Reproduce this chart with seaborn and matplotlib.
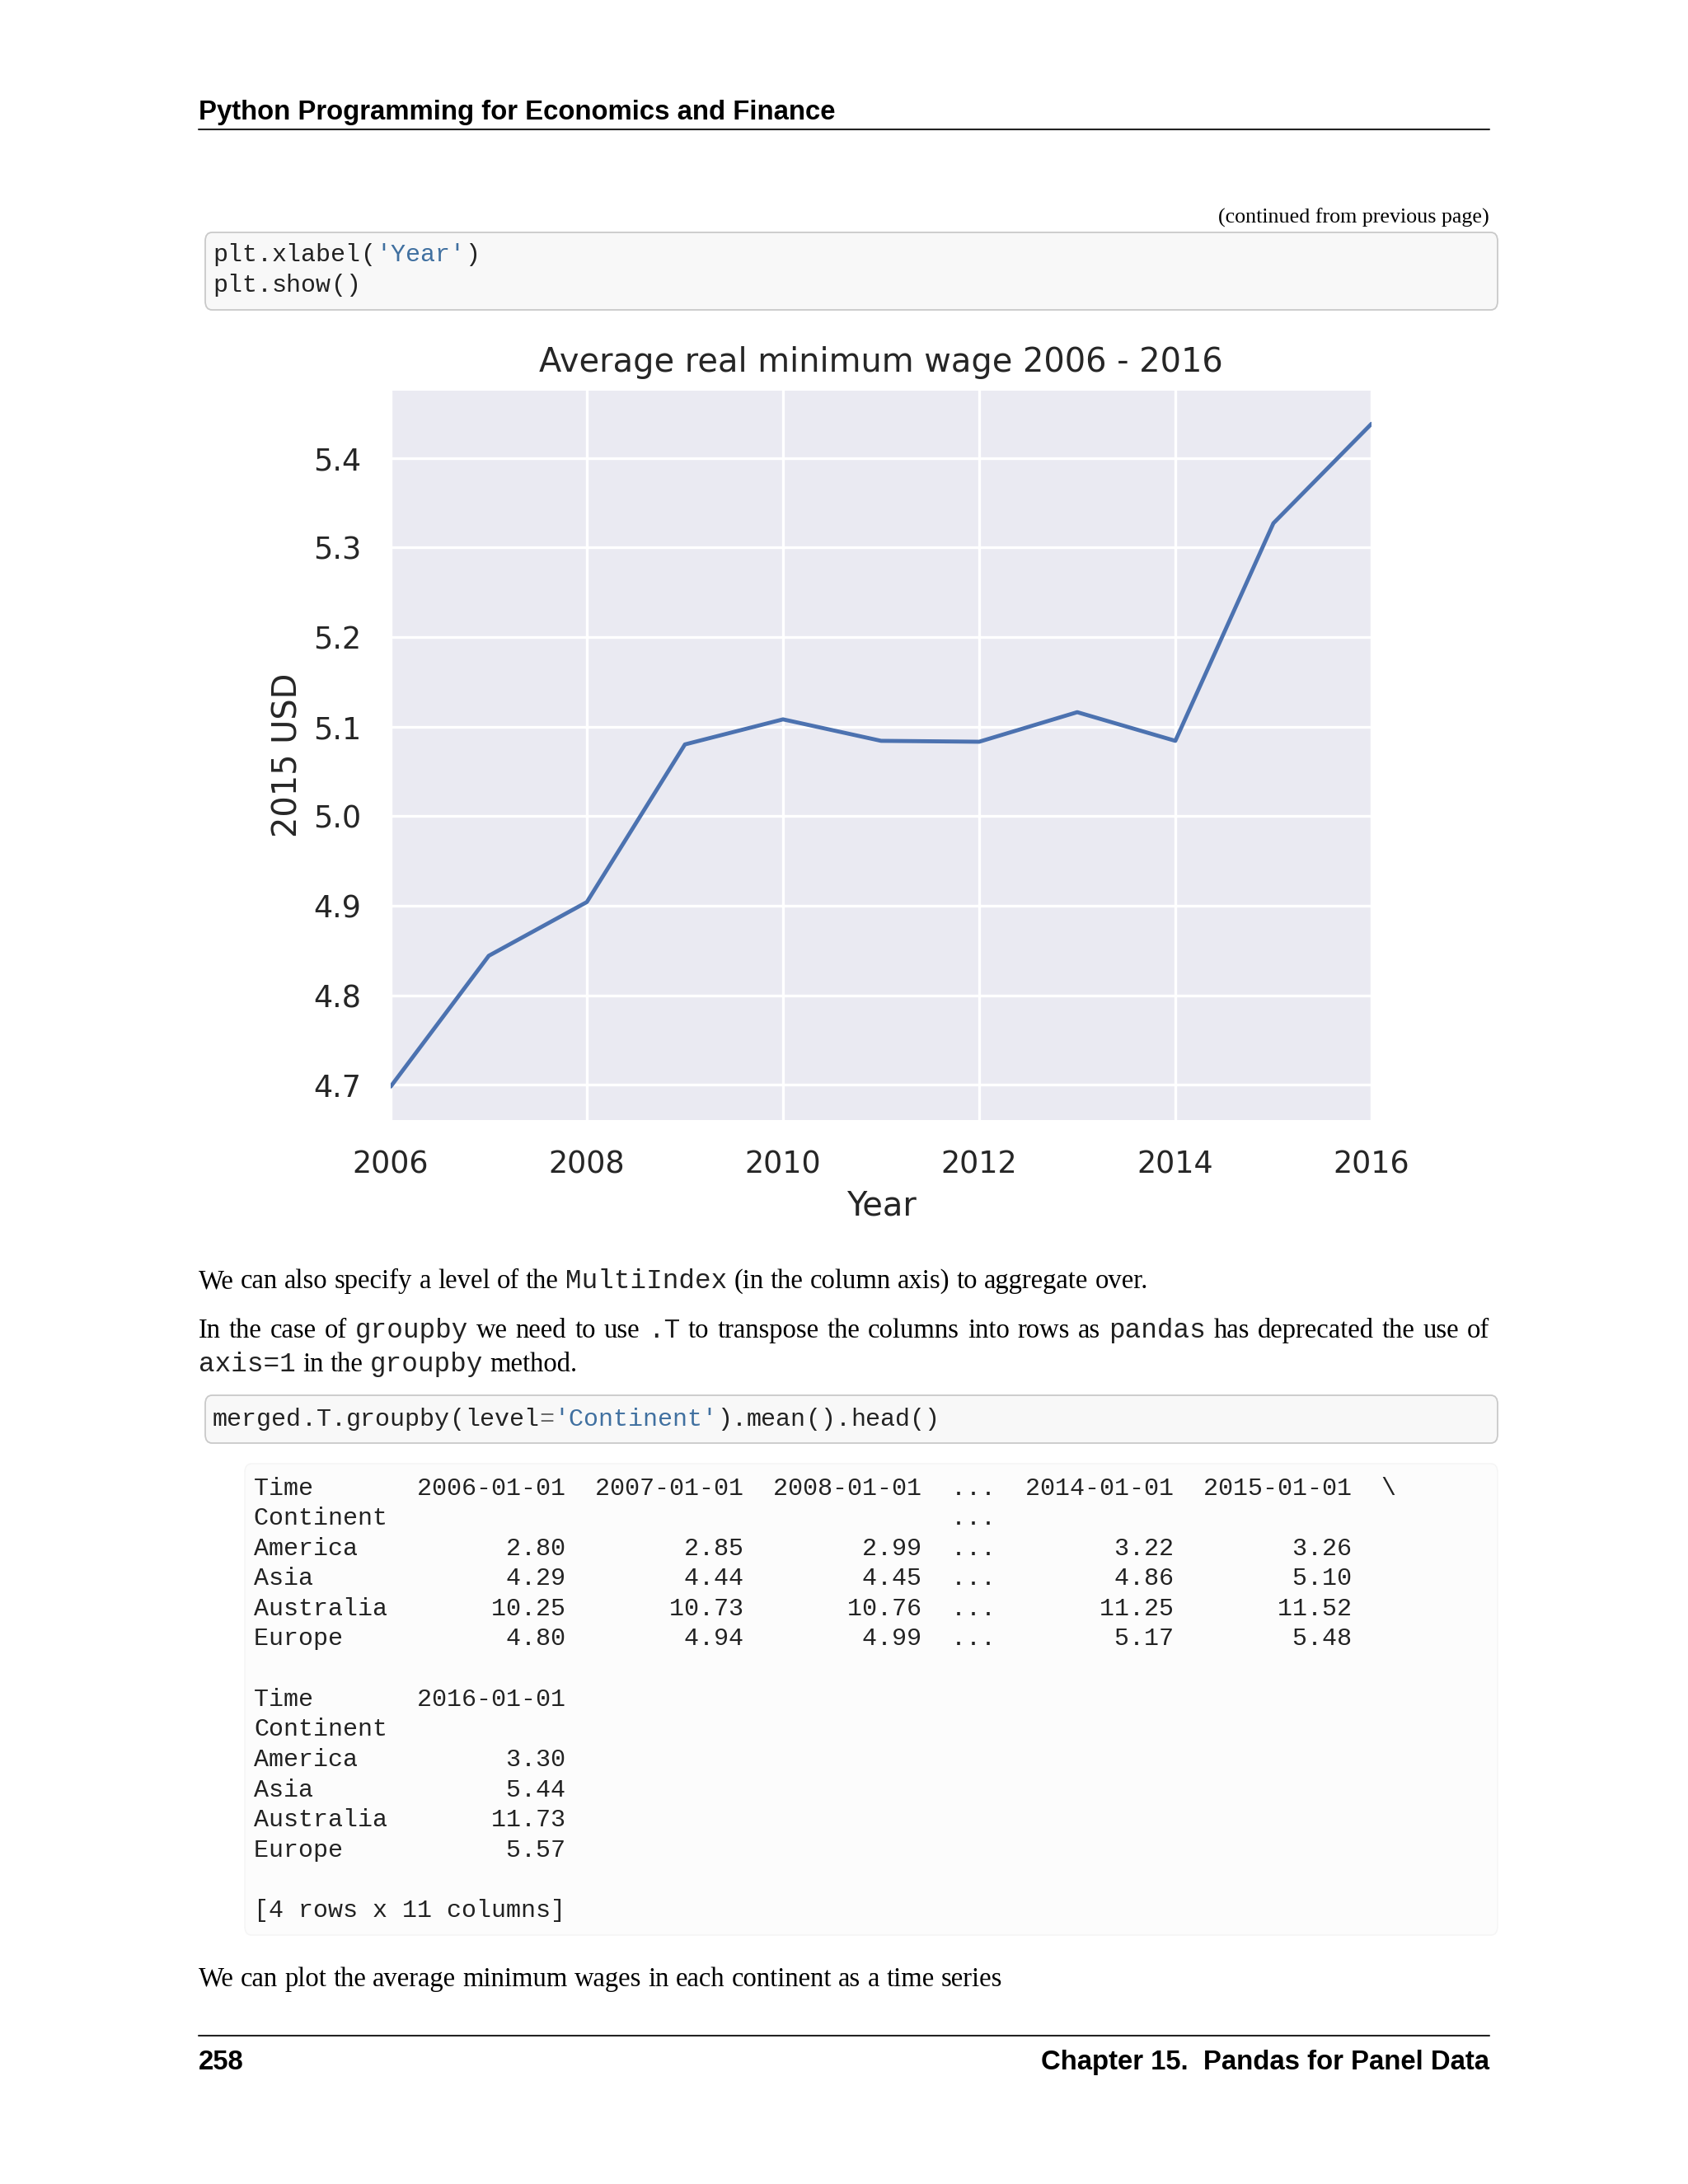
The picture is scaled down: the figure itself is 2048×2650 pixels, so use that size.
import numpy as np
import pandas as pd
import matplotlib
matplotlib.use('Agg')
import matplotlib.pyplot as plt
import seaborn as sns
from matplotlib.patches import FancyBboxPatch, Rectangle
from matplotlib.lines import Line2D
from matplotlib.ticker import MultipleLocator

# chart data
years = [2006, 2007, 2008, 2009, 2010, 2011, 2012, 2013, 2014, 2015, 2016]
avg_wage = [4.698, 4.844, 4.904, 5.080, 5.108, 5.084, 5.083, 5.116, 5.084, 5.327, 5.438]

# printed table
continents = ['America', 'Asia', 'Australia', 'Europe']
first_cols = ['2006-01-01', '2007-01-01', '2008-01-01']
first_vals = [[2.80, 2.85, 2.99], [4.29, 4.44, 4.45], [10.25, 10.73, 10.76], [4.80, 4.94, 4.99]]
late_cols = ['2014-01-01', '2015-01-01']
late_vals = [[3.22, 3.26], [4.86, 5.10], [11.25, 11.52], [5.17, 5.48]]
last_col = '2016-01-01'
last_vals = [3.30, 5.44, 11.73, 5.57]

W, H = 2048, 2650
SERIF = 'Liberation Serif'
MONO = 'Liberation Mono'
SANS = 'Liberation Sans'
STR_C = '#4070a0'
CODE_C = '#222222'
OP_C = '#666666'
BODY = 23.5
MONO_SIZE = 21.6

sns.set_theme(style='darkgrid')
plt.rcParams['font.family'] = ['DejaVu Sans']

fig = plt.figure(figsize=(W / 100, H / 100), dpi=100)
fig.patch.set_facecolor('white')
renderer = fig.canvas.get_renderer()


def fx(x):
    return x / W


def fy(y):
    return 1 - y / H


def put(x, y, s, **kw):
    return fig.text(fx(x), fy(y), s, va='baseline', **kw)


def width_of(s, **kw):
    t = fig.text(0, 0, s, **kw)
    w = t.get_window_extent(renderer).width
    t.remove()
    return w


def runs_line(x0, y, runs, size, justify_to=None):
    # runs: list of (text, family, color); mono runs use the body size too
    items = []
    for text, fam, col in runs:
        parts = text.split(' ')
        for i, p in enumerate(parts):
            if i > 0:
                items.append(('space', ' ', fam, col))
            if p:
                items.append(('word', p, fam, col))
    space_w = {}
    natural = 0
    n_sp = 0
    widths = []
    for kind, txt, fam, col in items:
        if kind == 'word':
            w = width_of(txt, family=fam, size=size)
        else:
            if fam not in space_w:
                space_w[fam] = width_of('a a', family=fam, size=size) - width_of('aa', family=fam, size=size)
            w = space_w[fam]
            n_sp += 1
        widths.append(w)
        natural += w
    extra = 0
    if justify_to is not None and n_sp:
        extra = (justify_to - x0 - natural) / n_sp
    x = x0
    for (kind, txt, fam, col), w in zip(items, widths):
        if kind == 'word':
            put(x, y, txt, family=fam, size=size, color=col)
            x += w
        else:
            x += w + extra


def code_line(x0, y, segs, size=MONO_SIZE):
    cw = width_of('M' * 20, family=MONO, size=size) / 20
    x = x0
    for txt, col in segs:
        put(x, y, txt, family=MONO, size=size, color=col)
        x += cw * len(txt)


def code_box(y0, y1, color='#f8f8f8', edge='#c9c9c9'):
    box = FancyBboxPatch((fx(249), fy(y1)), fx(1817) - fx(249), fy(y0) - fy(y1),
                         boxstyle='round,pad=0,rounding_size=0.004',
                         transform=fig.transFigure, facecolor=color, edgecolor=edge,
                         linewidth=1.3, zorder=0)
    fig.patches.append(box)


def rule(y):
    fig.lines.append(Line2D([fx(241), fx(1807)], [fy(y), fy(y)], transform=fig.transFigure,
                            color='#222222', linewidth=1.5))


# header
put(241, 145, 'Python Programming for Economics and Finance', family=SANS, weight='bold', size=23.7, color='black')
rule(157)
put(1807, 271, '(continued from previous page)', family=SERIF, size=18.7, color='black', ha='right')

code_box(282, 376)
code_line(258, 317, [('plt', CODE_C), ('.', CODE_C), ('xlabel', CODE_C), ('(', CODE_C),
                     ("'Year'", STR_C), (')', CODE_C)])
code_line(258, 354, [('plt', CODE_C), ('.', CODE_C), ('show', CODE_C), ('()', CODE_C)])

# chart
ax = fig.add_axes([fx(474), fy(1358.6), (1664 - 474) / W, (1358.6 - 474) / H])
sns.lineplot(x=years, y=avg_wage, ax=ax, color='#4c72b0', linewidth=3.5)
ax.set_xlim(years[0], years[-1])
ax.margins(y=0.05)
ax.xaxis.set_major_locator(MultipleLocator(2))
ax.yaxis.set_major_locator(MultipleLocator(0.1))
ax.grid(True, color='white', linewidth=2.4)
ax.tick_params(axis='both', labelsize=26.3, pad=25.5, length=0, labelcolor='.15')
ax.set_title('Average real minimum wage 2006 - 2016', fontsize=28.7, color='.15', pad=16.5)
ax.set_xlabel('Year', fontsize=28.7, color='.15')
ax.set_ylabel('2015 USD', fontsize=28.7, color='.15')
ax.xaxis.set_label_coords(0.5, -0.096)
ax.yaxis.set_label_coords(-0.088, 0.5)
for sp in ax.spines.values():
    sp.set_visible(False)

# paragraphs
runs_line(241, 1563, [('We can also specify a level of the ', SERIF, 'black'), ('MultiIndex', MONO, '#222222'),
                      (' (in the column axis) to aggregate over.', SERIF, 'black')], BODY)
runs_line(241, 1623, [('In the case of ', SERIF, 'black'), ('groupby', MONO, '#222222'),
                      (' we need to use ', SERIF, 'black'), ('.T', MONO, '#222222'),
                      (' to transpose the columns into rows as ', SERIF, 'black'), ('pandas', MONO, '#222222'),
                      (' has deprecated the use of', SERIF, 'black')], BODY, justify_to=1807)
runs_line(241, 1664, [('axis=1', MONO, '#222222'), (' in the ', SERIF, 'black'), ('groupby', MONO, '#222222'),
                      (' method.', SERIF, 'black')], BODY)

code_box(1693, 1751)
code_line(258, 1730, [('merged', CODE_C), ('.', CODE_C), ('T', CODE_C), ('.', CODE_C), ('groupby', CODE_C),
                      ('(', CODE_C), ('level', CODE_C), ('=', OP_C), ("'Continent'", STR_C), (')', CODE_C),
                      ('.', CODE_C), ('mean', CODE_C), ('()', CODE_C), ('.', CODE_C), ('head', CODE_C),
                      ('()', CODE_C)])

# printed output block
out_box = FancyBboxPatch((fx(297), fy(2348)), fx(1817) - fx(297), fy(1776) - fy(2348),
                         boxstyle='round,pad=0,rounding_size=0.004', transform=fig.transFigure,
                         facecolor='#fcfcfc', edgecolor='#f4f4f4', linewidth=1.0, zorder=0)
fig.patches.append(out_box)

lines = []
head = 'Time'.ljust(9) + '  ' + '  '.join(c.rjust(10) for c in first_cols) + '  ...  ' + \
    '  '.join(c.rjust(10) for c in late_cols) + '  \\'
lines.append(head)
lines.append('Continent'.ljust(9) + ' ' * (2 + 12 * len(first_cols)) + '...')
for i, name in enumerate(continents):
    row = name.ljust(9) + '  ' + '  '.join(f'{v:.2f}'.rjust(10) for v in first_vals[i]) + '  ...  ' + \
        '  '.join(f'{v:.2f}'.rjust(10) for v in late_vals[i])
    lines.append(row)
lines.append('')
lines.append('Time'.ljust(9) + '  ' + last_col.rjust(10))
lines.append('Continent')
for i, name in enumerate(continents):
    lines.append(name.ljust(9) + '  ' + f'{last_vals[i]:.2f}'.rjust(10))
lines.append('')
lines.append('[4 rows x 11 columns]')

for k, ln in enumerate(lines):
    if ln:
        code_line(308, 1813.5 + k * 36.6, [(ln, CODE_C)])

runs_line(241, 2410, [('We can plot the average minimum wages in each continent as a time series', SERIF, 'black')], BODY)

# footer
rule(2470)
put(241, 2511, '258', family=SANS, weight='bold', size=23.7, color='black')
put(1807, 2511, 'Chapter 15.  Pandas for Panel Data', family=SANS, weight='bold', size=23.7, color='black', ha='right')

fig.savefig('out.png', dpi=100, facecolor='white')
